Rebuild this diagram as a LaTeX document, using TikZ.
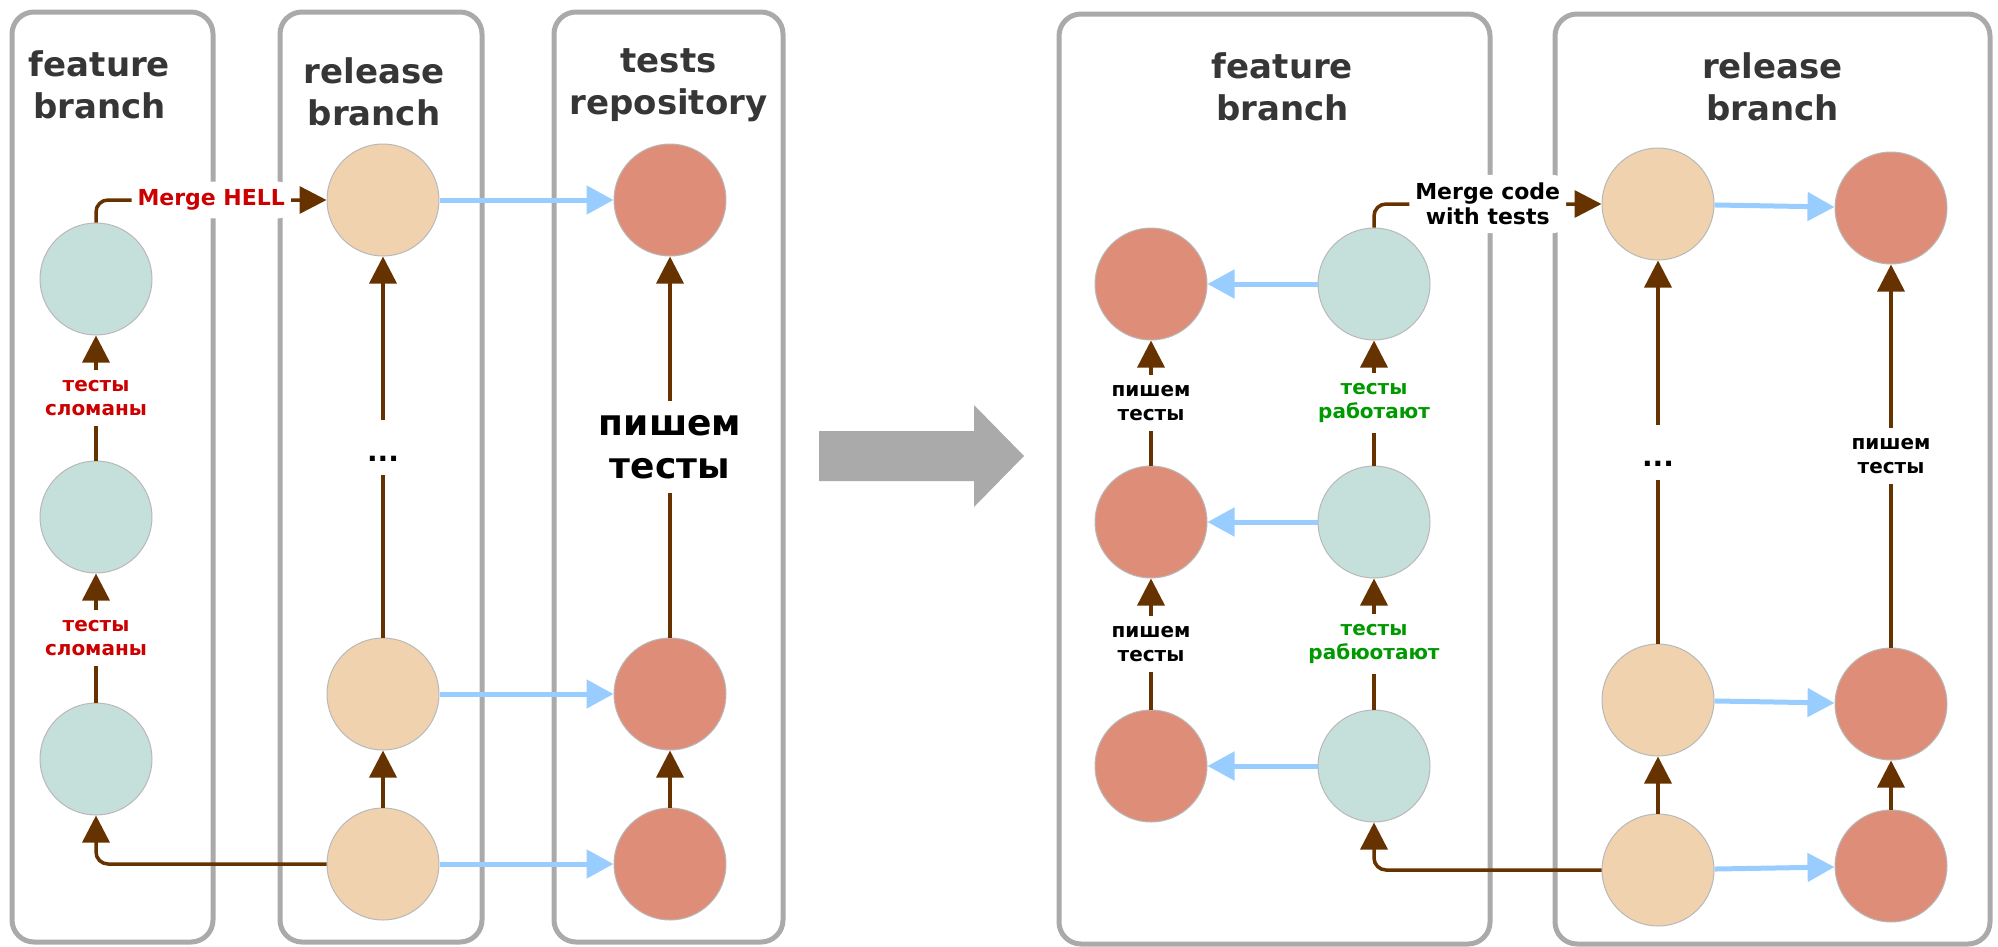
\documentclass[tikz,border=0pt]{standalone}
\usepackage{fontspec}
\setmainfont{DejaVu Sans}
\usetikzlibrary{positioning, arrows.meta}

\definecolor{laneGray}{HTML}{AAAAAA}
\definecolor{titleGray}{HTML}{363636}
\definecolor{ringGray}{HTML}{B8B8B8}
\definecolor{codeTeal}{HTML}{C5DFDB}
\definecolor{relPeach}{HTML}{F0D3AE}
\definecolor{testRed}{HTML}{DE8D78}
\definecolor{histBrown}{HTML}{663300}
\definecolor{pushBlue}{HTML}{99CCFF}
\definecolor{brokenRed}{HTML}{CC0000}
\definecolor{okGreen}{HTML}{009900}

\begin{document}
\begin{tikzpicture}[
    x=1pt, y=-1pt,
    lane/.style = {rectangle, draw=laneGray, line width=5pt, rounded corners=22pt, minimum height=930pt, inner sep=0pt, outer sep=0pt},
    title/.style = {align=center, font=\bfseries\fontsize{34}{42}\selectfont, text=titleGray, inner sep=0pt},
    commit/.style = {circle, draw=ringGray, line width=1pt, minimum size=112pt, inner sep=0pt},
    code/.style = {commit, fill=codeTeal},
    rel/.style = {commit, fill=relPeach},
    tst/.style = {commit, fill=testRed},
    arrow/.style = {-{Triangle[length=27pt, width=27pt]}, line width=3.5pt, draw=histBrown},
    push/.style = {-{Triangle[length=27pt, width=28pt]}, line width=5pt, draw=pushBlue},
    note/.style = {fill=white, align=center, font=\bfseries\fontsize{20}{24}\selectfont, inner xsep=4pt, inner ysep=10pt},
    bignote/.style = {note, font=\bfseries\fontsize{36}{43}\selectfont, inner ysep=14pt},
    merge/.style = {note, font=\bfseries\fontsize{22}{25}\selectfont, inner xsep=6pt, inner ysep=8pt},
    dots/.style = {fill=white, font=\bfseries\fontsize{28}{30}\selectfont, text height=28pt, text depth=0pt, minimum height=55pt, inner sep=0pt}
]
    \useasboundingbox (0,0) rectangle (1998,946);

    \node[lane, minimum width=201pt] (FB) at (112.5,477) {};
    \node[lane, minimum width=202pt] (RB) at (381,477) {};
    \node[lane, minimum width=229pt] (TR) at (668.5,477) {};
    \node[lane, minimum width=431pt] (FB2) at (1274.5,479) {};
    \node[lane, minimum width=435pt] (RB2) at (1772.5,479) {};

    \node[title, below=38pt of FB.north, xshift=-13pt] (FBT) {feature\\branch};
    \node[title, below=45pt of RB.north, xshift=-7pt] (RBT) {release\\branch};
    \node[title, below=36pt of TR.north] (TRT) {tests\\repository};
    \node[title, below=38pt of FB2.north, xshift=8pt] (FB2T) {feature\\branch};
    \node[title, below=38pt of RB2.north] (RB2T) {release\\branch};

    \node[code] (F1) at (96,279) {};
    \node[code, below=125pt of F1] (F2) {};
    \node[code, below=129pt of F2] (F3) {};
    \node[rel] (R1) at (383,200) {};
    \node[rel, below=381pt of R1] (R2) {};
    \node[rel, below=57pt of R2] (R3) {};
    \node[tst, right=174pt of R1] (T1) {};
    \node[tst, right=174pt of R2] (T2) {};
    \node[tst, right=174pt of R3] (T3) {};

    \fill[laneGray] (819,431) -- (974,431) -- (974,405) -- (1024,456)
        -- (974,507) -- (974,481) -- (819,481) -- cycle;

    \node[code] (FC1) at (1374,284) {};
    \node[code, below=125pt of FC1] (FC2) {};
    \node[code, below=131pt of FC2] (FC3) {};
    \node[tst, left=110pt of FC1] (FT1) {};
    \node[tst, left=110pt of FC2] (FT2) {};
    \node[tst, left=110pt of FC3] (FT3) {};
    \node[rel] (RC1) at (1658,204) {};
    \node[rel, below=383pt of RC1] (RC2) {};
    \node[rel, below=57pt of RC2] (RC3) {};
    \node[tst] (RT1) at (1891,208) {};
    \node[tst] (RT2) at (1891,704) {};
    \node[tst] (RT3) at (1891,866) {};

    \draw[arrow] (F2) -- node[note, text=brokenRed] {тесты\\сломаны} (F1);
    \draw[arrow] (F3) -- node[note, text=brokenRed] {тесты\\сломаны} (F2);
    \draw[arrow] (R2) -- node[dots] {...} (R1);
    \draw[arrow] (R3) -- (R2);
    \draw[arrow] (T2) -- node[bignote] {пишем\\тесты} (T1);
    \draw[arrow] (T3) -- (T2);
    \draw[push] (R1) -- (T1);
    \draw[push] (R2) -- (T2);
    \draw[push] (R3) -- (T3);
    \draw[arrow, rounded corners=12pt] (F1.north) |- node[pos=0.75, merge, text=brokenRed] {Merge HELL} (R1.west);
    \draw[arrow, rounded corners=12pt] (R3.west) -| (F3.south);

    \draw[arrow] (FT2) -- node[note] {пишем\\тесты} (FT1);
    \draw[arrow] (FT3) -- node[note] {пишем\\тесты} (FT2);
    \draw[arrow] (FC2) -- node[note, text=okGreen] {тесты\\работают} (FC1);
    \draw[arrow] (FC3) -- node[note, text=okGreen] {тесты\\рабюотают} (FC2);
    \draw[push] (FC1) -- (FT1);
    \draw[push] (FC2) -- (FT2);
    \draw[push] (FC3) -- (FT3);
    \draw[arrow] (RC2) -- node[dots] {...} (RC1);
    \draw[arrow] (RC3) -- (RC2);
    \draw[arrow] (RT2) -- node[note] {пишем\\тесты} (RT1);
    \draw[arrow] (RT3) -- (RT2);
    \draw[push] (RC1) -- (RT1);
    \draw[push] (RC2) -- (RT2);
    \draw[push] (RC3) -- (RT3);
    \draw[arrow, rounded corners=12pt] (FC1.north) |- node[pos=0.75, merge] {Merge code\\with tests} (RC1.west);
    \draw[arrow, rounded corners=12pt] (RC3.west) -| (FC3.south);
\end{tikzpicture}
\end{document}
